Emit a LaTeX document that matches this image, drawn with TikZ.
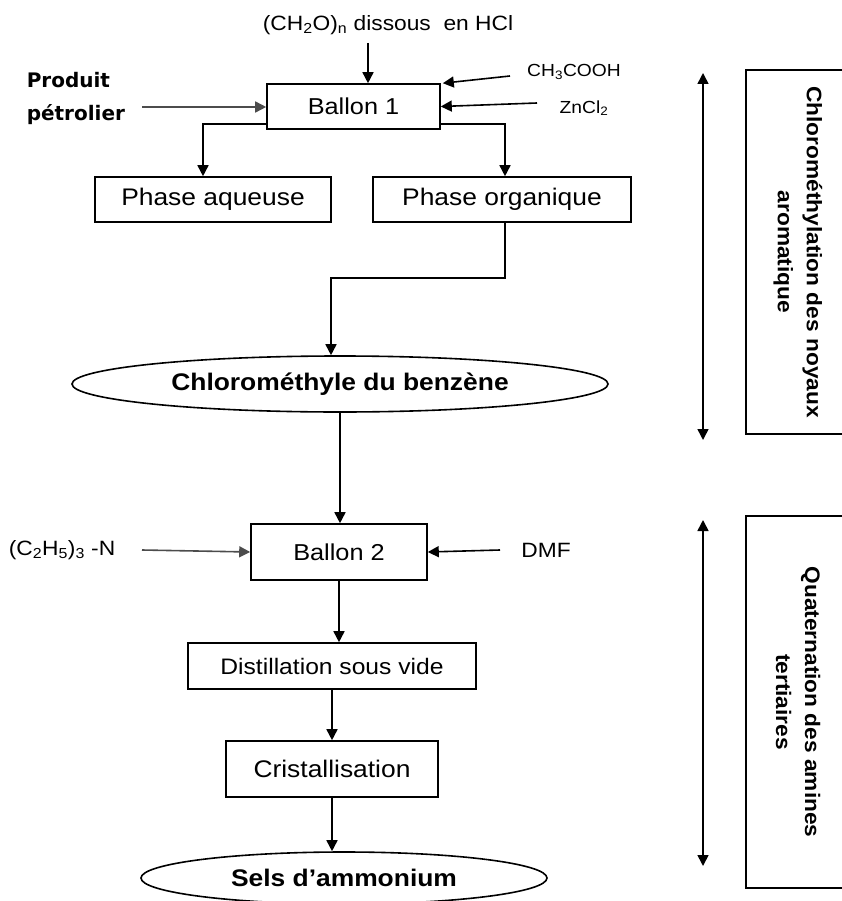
\documentclass[tikz,border=0pt]{standalone}
\usepackage{fontspec}
\setmainfont[FakeStretch=1.1]{Liberation Sans}
\newfontfamily\sidefont[FakeStretch=1.08]{Liberation Sans}
\newfontfamily\verdfont{DejaVu Sans}
\usetikzlibrary{arrows.meta,shapes.geometric}

\begin{document}
\begin{tikzpicture}[x=1pt,y=-1pt,line width=1.6pt,
  arr/.style={-{Triangle[length=11pt,width=11pt]}},
  arrboth/.style={{Triangle[length=11pt,width=11pt]}-{Triangle[length=11pt,width=11pt]}},
  box/.style={draw,rectangle,inner sep=0pt,font=\fontsize{24}{28}\selectfont},
  oval/.style={draw,ellipse,inner sep=0pt,font=\fontsize{24}{28}\selectfont\bfseries},
  chem/.style={inner sep=0pt,font=\fontsize{20.7}{24}\selectfont},
  stage/.style={draw,rectangle,rotate=-90,inner sep=0pt,align=center,
    minimum height=104pt,font=\sidefont\bfseries\fontsize{21}{29}\selectfont}]
  \useasboundingbox (0,0) rectangle (842,901);
  \clip (0,0) rectangle (842,901);

  \node[chem] (ch2o) at (388,25) {(CH\textsubscript{2}O)\textsubscript{n} dissous\ \ en HCl};
  \node[box,minimum width=173pt,minimum height=45pt,font=\fontsize{23}{27}\selectfont] (b1) at (353.5,106.5) {Ballon 1};
  \node[chem,font=\fontsize{17.5}{21}\selectfont] (acid) at (574,72) {CH\textsubscript{3}COOH};
  \node[chem,font=\fontsize{17.5}{21}\selectfont] (zncl) at (584,108) {ZnCl\textsubscript{2}};
  \node[anchor=west,inner sep=0pt,align=left,font=\verdfont\bfseries\fontsize{20}{33}\selectfont] (prod) at (26,98.5) {Produit\\pétrolier};
  \node[box,minimum width=236pt,minimum height=45pt] (pa) at (213,199.5) {Phase aqueuse};
  \node[box,minimum width=258pt,minimum height=45pt] (po) at (502,199.5) {Phase organique};
  \node[oval,minimum width=536pt,minimum height=56pt] (cmb) at (340,384) {Chlorométhyle du benzène};
  \node[box,minimum width=176pt,minimum height=56pt,font=\fontsize{23}{27}\selectfont] (b2) at (339,552) {Ballon 2};
  \node[chem] (amine) at (62,550) {(C\textsubscript{2}H\textsubscript{5})\textsubscript{3} -N};
  \node[chem] (dmf) at (546,550) {DMF};
  \node[box,minimum width=288pt,minimum height=46pt,font=\fontsize{22.4}{26}\selectfont] (dist) at (332,666) {Distillation sous vide};
  \node[box,minimum width=212pt,minimum height=56pt] (crist) at (332,769) {Cristallisation};
  \node[oval,minimum width=406pt,minimum height=52pt] (sels) at (344,878) {Sels d’ammonium};

  \node[stage,minimum width=364pt] (st1) at (798,252) {Chlorométhylation des noyaux\\aromatique};
  \node[stage,minimum width=372pt] (st2) at (798,702) {Quaternation des amines\\tertiaires};

  \coordinate (in1) at (368,43);
  \coordinate (in2) at (510,76);
  \coordinate (in3) at (537,103);
  \coordinate (in4) at (142,107);
  \coordinate (in5) at (142,550);
  \coordinate (in6) at (500,550);
  \coordinate (s1a) at (703,73);
  \coordinate (s1b) at (703,440);
  \coordinate (s2a) at (703,520);
  \coordinate (s2b) at (703,866);

  \draw[arr] (in1) -- (in1 |- b1.north);
  \draw[arr] (in2) -- ([xshift=2pt]b1.north east);
  \draw[arr] (in3) -- (b1.east);
  \draw[arr,black!70] (in4) -- (in4 -| b1.west);
  \draw[arr] ([yshift=6pt]b1.south west) -| ([xshift=-10pt]pa.north);
  \draw[arr] ([yshift=6pt]b1.south east) -| ([xshift=3pt]po.north);
  \draw[arr] ([xshift=3pt]po.south) -- ++(0,55) -| ([xshift=-9pt]cmb.north);
  \draw[arr] (cmb.south) -- (cmb.south |- b2.north);
  \draw[arr,black!70] (in5) -- (b2.west);
  \draw[arr] (in6) -- (b2.east);
  \draw[arr] (b2.south) -- (b2.south |- dist.north);
  \draw[arr] (dist.south) -- (crist.north);
  \draw[arr] (crist.south) -- (crist.south |- sels.north);
  \draw[arrboth] (s1a) -- (s1b);
  \draw[arrboth] (s2a) -- (s2b);
\end{tikzpicture}
\end{document}
